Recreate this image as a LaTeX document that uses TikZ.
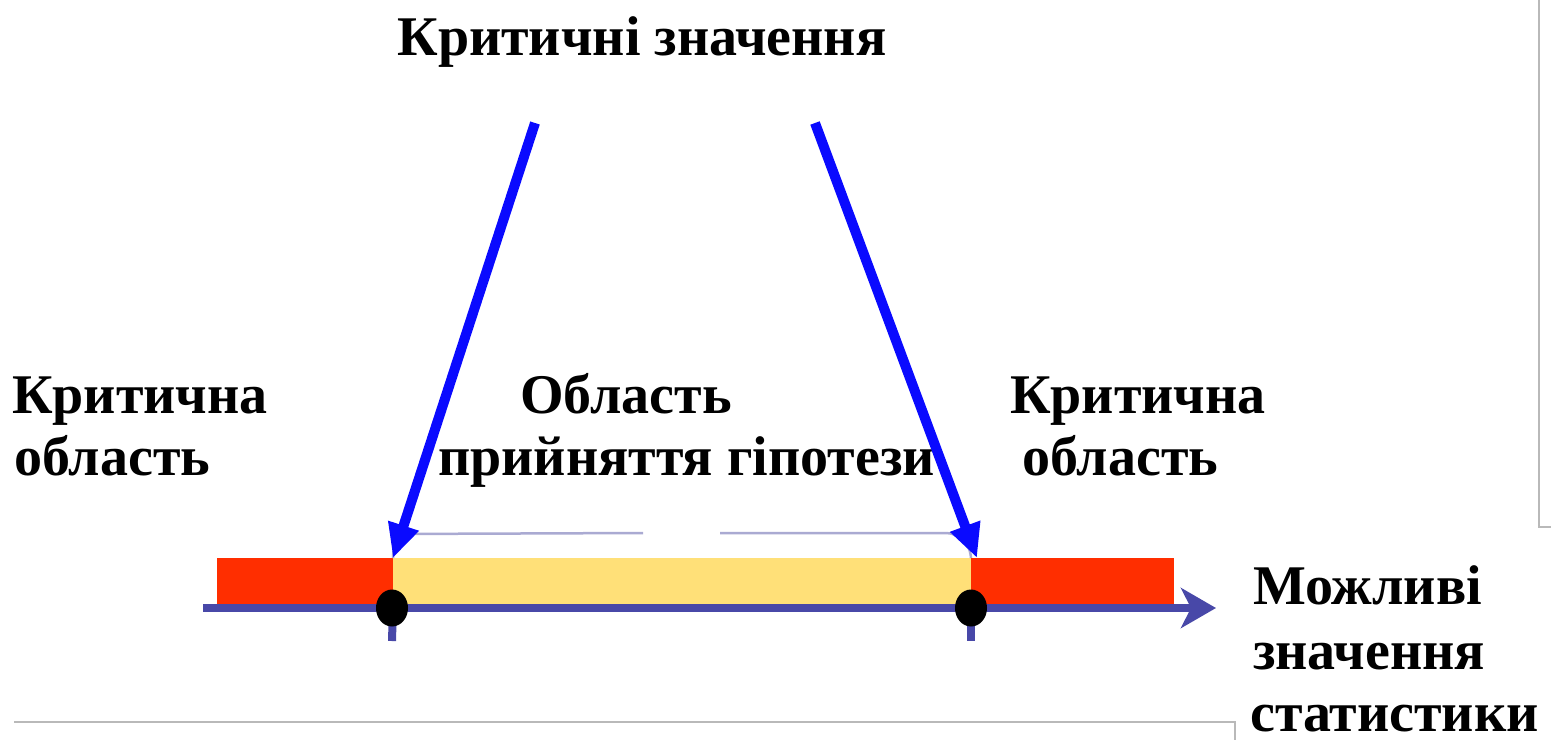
\documentclass[tikz,border=0pt]{standalone}
\usepackage{fontspec}
\setmainfont{Liberation Serif}
\usepackage{xcolor}
\usepackage{tikz}
\usetikzlibrary{arrows.meta,positioning,shapes.geometric}
\definecolor{arrblue}{RGB}{10,10,255}
\definecolor{axblue}{RGB}{72,72,168}
\definecolor{crred}{RGB}{255,46,0}
\definecolor{accyel}{RGB}{255,224,120}
\definecolor{brklil}{RGB}{170,170,210}
\definecolor{framegr}{RGB}{185,185,185}
\tikzset{
  lbl/.style={font=\bfseries\fontsize{56}{67}\selectfont, inner sep=0pt, anchor=base west},
  crbar/.style={rectangle, fill=crred, inner sep=0pt, outer sep=0pt, minimum height=47pt},
  accbar/.style={rectangle, fill=accyel, inner sep=0pt, outer sep=0pt, minimum height=47pt},
  dot/.style={ellipse, fill=black, inner sep=0pt, minimum width=32pt, minimum height=37pt},
  crarr/.style={-{Triangle[length=34pt,width=30pt]}, line width=10pt, arrblue},
  axs/.style={-{Stealth[length=35pt,width=40pt,inset=10pt]}, line width=8pt, axblue},
  tck/.style={line width=8pt, axblue},
  brk/.style={line width=2.5pt, brklil, rounded corners=22pt},
  frm/.style={line width=1.5pt, framegr}
}
\begin{document}
\begin{tikzpicture}[x=1pt,y=-1pt]
\useasboundingbox (0,0) rectangle (1551,740);
% screen frame
\draw[frm] (1539,0) -- (1539,527) -- (1551,527);
\draw[frm] (14,722) -- (1235,722) -- (1235,740);
% labels
\node[lbl, anchor=base] (crv) at (642,55) {Критичні значення};
\node[lbl] (lcr1) at (12,413) {Критична};
\node[lbl] (lcr2) at (14,475) {область};
\node[lbl] (acc1) at (520,413) {Область};
\node[lbl] (acc2) at (438,475) {прийняття гіпотези};
\node[lbl] (rcr1) at (1010,413) {Критична};
\node[lbl] (rcr2) at (1022,475) {область};
\node[lbl] (val1) at (1253,604) {Можливі};
\node[lbl] (val2) at (1253,669) {значення};
\node[lbl] (val3) at (1250,731) {статистики};
% bars
\node[crbar, minimum width=176pt, anchor=north west] (crl) at (217,558) {};
\node[accbar, minimum width=578pt, right=0pt of crl] (acc) {};
\node[crbar, minimum width=203pt, right=0pt of acc] (crr) {};
% bracket over acceptance region
\draw[brk] (acc.north west) -- ++(0,-24) -- (643,533);
\draw[brk] (720,533) -- (968,533) -- (acc.north east);
% axis
\coordinate (ax0) at (203,608);
\coordinate (ax1) at (1216,608);
\draw[axs] (ax0) -- (ax1);
\coordinate (tl) at (392,641);
\coordinate (tr) at (971,641);
\draw[tck] (acc.south west) -- (tl);
\draw[tck] (acc.south east) -- (tr);
\node[dot] (dl) at (392,608) {};
\node[dot] (dr) at (971,608) {};
% critical value arrows
\coordinate (sl) at (535,123);
\coordinate (sr) at (815,123);
\draw[crarr] (sl) -- (acc.north west);
\draw[crarr] (sr) -- ([xshift=6pt]acc.north east);
\end{tikzpicture}
\end{document}
